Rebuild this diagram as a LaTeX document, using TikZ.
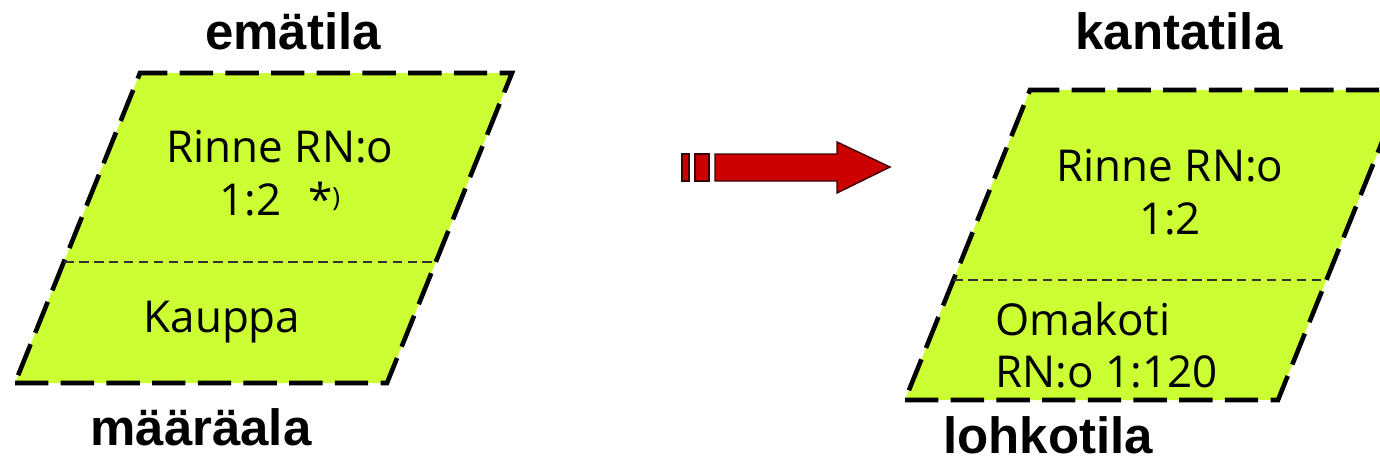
\documentclass[tikz,border=0pt]{standalone}
\usepackage{fontspec}
\newfontfamily\handfont{Open Sans}
\newfontfamily\labelfont{Liberation Sans}
\usetikzlibrary{positioning}
\definecolor{parcelfill}{RGB}{204,255,51}
\definecolor{arrowred}{RGB}{204,0,0}

\begin{document}
\begin{tikzpicture}[
  x=0.2mm, y=-0.2mm,
  parcel/.style  = {draw=black, fill=parcelfill, line width=2.6pt,
                    dash pattern=on 19pt off 7pt, line join=miter},
  divider/.style = {draw=black!80, line width=1pt,
                    dash pattern=on 5.5pt off 3pt},
  ptext/.style   = {font=\handfont\fontsize{25}{30}\selectfont,
                    align=center, inner sep=0pt},
  plabel/.style  = {font=\labelfont\bfseries\fontsize{29}{32}\selectfont,
                    anchor=base, inner sep=0pt},
  blockarr/.style= {fill=arrowred, draw=black!70!arrowred, line width=0.8pt},
]
\useasboundingbox (0,0) rectangle (1380,461);
\clip (0,0) rectangle (1380,461);

% left parcel (ematila / maaraala)
\coordinate (lbl) at (15,383);
\coordinate (lbr) at (387,383);
\coordinate (ltr) at (512,73);
\coordinate (ltl) at (140,73);
\path[parcel] (lbl) -- (lbr) -- (ltr) -- (ltl) -- cycle;
\draw[divider] (64,262) -- (436,262);

\node[ptext] (lname) at (280,173)
  {Rinne RN:o\\1:2\hspace{0.6em}*\raisebox{5pt}{\fontsize{15}{15}\selectfont)}};
\node[ptext] (lpart) at (222,322) {Kauppa};

% right parcel (kantatila / lohkotila)
\coordinate (rbl) at (905,400);
\coordinate (rbr) at (1278,400);
\coordinate (rtr) at (1403,90);
\coordinate (rtl) at (1030,90);
\path[parcel] (rbl) -- (rbr) -- (rtr) -- (rtl) -- cycle;
\draw[divider] (953,280) -- (1326,280);

\node[ptext] (rname) at (1170,192) {Rinne RN:o\\1:2};
\node[ptext, align=left, anchor=west] (rpart) at (995,345)
  {Omakoti\\RN:o 1:120};

% headings
\node[plabel] (emat) at (293,50)  {emätila};
\node[plabel] (kant) at (1179,50) {kantatila};
\node[plabel] (maar) at (201,445) {määräala};
\node[plabel] (lohk) at (1048,453) {lohkotila};

% block arrow
\path[blockarr] (682,154) rectangle (689,181);
\path[blockarr] (695,154) rectangle (709,181);
\path[blockarr] (715,154) -- (837,154) -- (837,142) -- (890,167)
  -- (837,193) -- (837,181) -- (715,181) -- cycle;

\end{tikzpicture}
\end{document}
